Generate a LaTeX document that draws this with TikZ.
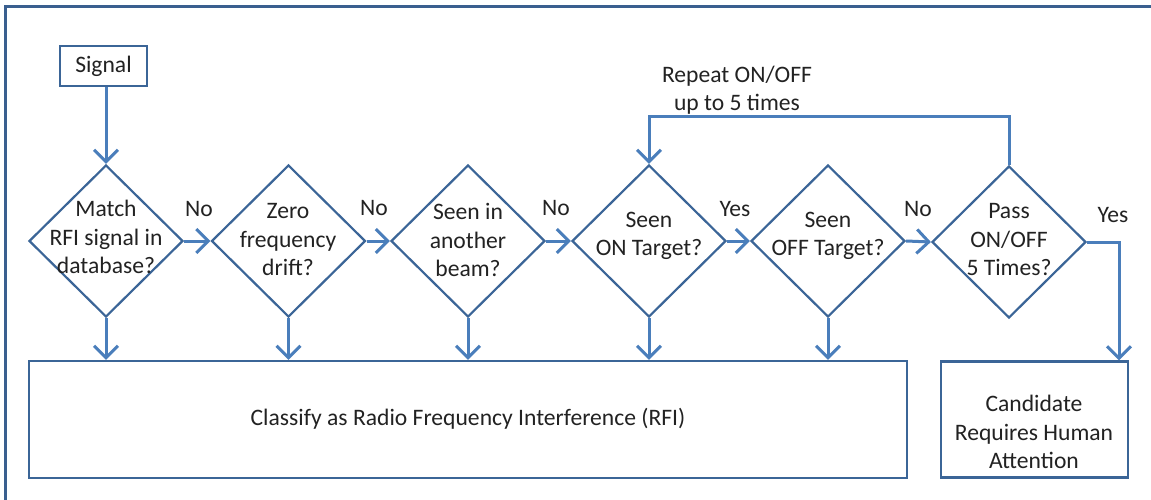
\documentclass[tikz,border=0pt]{standalone}
\usepackage{fontspec}
\setmainfont{Carlito}
\usetikzlibrary{shapes.geometric,arrows.meta}
\definecolor{shp}{HTML}{3B6597}
\definecolor{connc}{HTML}{4A7EBB}
\definecolor{framec}{HTML}{3A5F8F}
\definecolor{txtc}{HTML}{222222}
\begin{document}
\begin{tikzpicture}[x=1pt,y=-1pt,
  dia/.style={diamond, draw=shp, line width=2.2pt, minimum width=154pt, minimum height=152pt, inner sep=0pt},
  boxn/.style={rectangle, draw=shp, line width=2.2pt, inner sep=0pt},
  lbl/.style={text=txtc, font=\fontsize{23.6}{28.5}\selectfont, align=center, inner sep=0pt},
  connector/.style={draw=connc, line width=3pt, -{Straight Barb[length=12pt,width=24pt]}},
  plain/.style={draw=connc, line width=3pt}]
\useasboundingbox (0,0) rectangle (1151,500);
% frame
\draw[framec, line width=3pt] (5,500) -- (5,7) -- (1151,7);
% nodes
\node[boxn, minimum width=87pt, minimum height=40pt, lbl] (sig) at (103.5,66) {Signal};
\node[dia] (d1) at (106,241) {};
\node[dia] (d2) at (288.5,241) {};
\node[dia] (d3) at (468,241) {};
\node[dia] (d4) at (649,241) {};
\node[dia] (d5) at (828,241) {};
\node[dia] (d6) at (1009,242) {};
\node[boxn, minimum width=878pt, minimum height=117pt] (rfi) at (468,419.5) {};
\node[boxn, minimum width=187pt, minimum height=116pt] (cand) at (1034.5,419.5) {};
% texts
\node[lbl] (t1) at (106,237) {Match\\RFI signal in\\database?};
\node[lbl] (t2) at (288,240) {Zero\\frequency\\drift?};
\node[lbl] (t3) at (468,240) {Seen in\\another\\beam?};
\node[lbl] (t4) at (649,236) {Seen\\ON Target?};
\node[lbl] (t5) at (828,236) {Seen\\OFF Target?};
\node[lbl] (t6) at (1009,240) {Pass\\ON/OFF\\5 Times?};
\node[lbl] (trfi) at (468,419) {Classify as Radio Frequency Interference (RFI)};
\node[lbl] (tcand) at (1034,432) {Candidate\\Requires Human\\Attention};
\node[lbl] (rep) at (737,90) {Repeat ON/OFF\\up to 5 times};
\node[lbl] (n1) at (199,209) {No};
\node[lbl] (n2) at (374,208) {No};
\node[lbl] (n3) at (556,208) {No};
\node[lbl] (y1) at (735,209) {Yes};
\node[lbl] (n4) at (918,209) {No};
\node[lbl] (y2) at (1113,215) {Yes};
% helper coordinates
\coordinate (yc) at (1119,0);
\coordinate (lp) at (0,117);
% connectors
\draw[connector] (sig.south -| d1.north) -- (d1.north);
\draw[connector] (d1.east) -- (d2.west);
\draw[connector] (d2.east) -- (d3.west);
\draw[connector] (d3.east) -- (d4.west);
\draw[connector] (d4.east) -- (d5.west);
\draw[connector] (d5.east) -- (d6.west);
\foreach \d in {d1,d2,d3,d4,d5}
  \draw[connector] (\d.south) -- (\d.south |- rfi.north);
\draw[connector] (d6.east) -| (yc |- cand.north);
\draw[connector] (d6.north) -- (d6.north |- lp) -| (d4.north);
\end{tikzpicture}
\end{document}
